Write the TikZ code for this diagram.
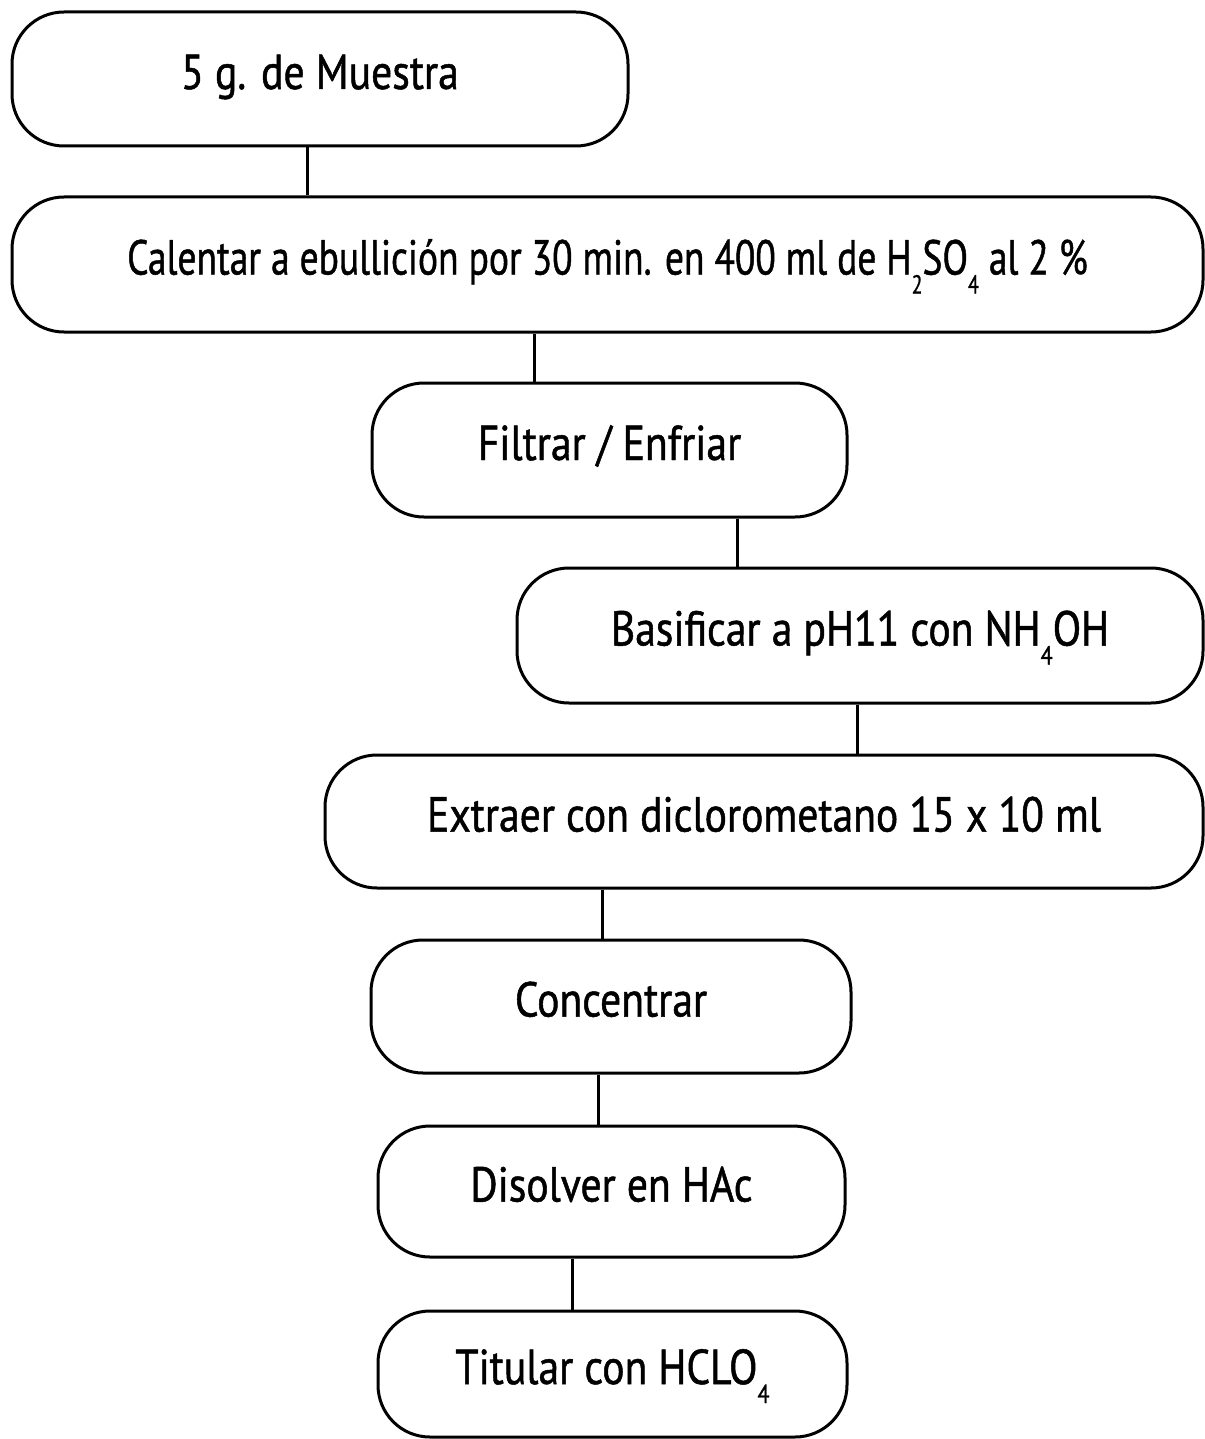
\documentclass[tikz,border=0pt]{standalone}
\usepackage{graphicx}
\usepackage{fontspec}
\setmainfont{PT Sans}[FakeStretch=0.85,FakeBold=1]
\newcommand\chsub[1]{\raisebox{-19pt}{\fontsize{26}{26}\selectfont #1}}
\begin{document}
\begin{tikzpicture}[x=1pt,y=-1pt,
  stepbox/.style={draw=black, line width=3pt, rounded corners=52pt, inner sep=0pt,
    text height=34pt, text depth=14pt, align=center,
    font=\fontsize{49}{56}\selectfont},
  conn/.style={draw=black, line width=3pt}]
\useasboundingbox (0,0) rectangle (1204,1439);
\node[stepbox, minimum width=616pt, minimum height=134pt] (b1) at (320,79) {5 g. de Muestra};
\node[stepbox, minimum width=1191pt, minimum height=135pt] (b2) at (607.5,264.5) {\scalebox{0.9}[1]{Calentar a ebullición por 30 min. en 400 ml de H\chsub{2}SO\chsub{4} al 2 \%}};
\node[stepbox, minimum width=475pt, minimum height=134pt] (b3) at (609.5,450) {Filtrar / Enfriar};
\node[stepbox, minimum width=686pt, minimum height=135pt] (b4) at (860,635.5) {Basificar a pH11 con NH\chsub{4}OH};
\node[stepbox, minimum width=878pt, minimum height=133pt] (b5) at (764,821.5) {Extraer con diclorometano 15 x 10 ml};
\node[stepbox, minimum width=480pt, minimum height=133pt] (b6) at (611,1006.5) {Concentrar};
\node[stepbox, minimum width=467pt, minimum height=131pt] (b7) at (611.5,1191.5) {Disolver en HAc};
\node[stepbox, minimum width=469pt, minimum height=126pt] (b8) at (612.5,1374) {Titular con HCLO\chsub{4}};
\coordinate (c1) at (307,0);
\coordinate (c2) at (534,0);
\coordinate (c3) at (737,0);
\coordinate (c4) at (857,0);
\coordinate (c5) at (602,0);
\coordinate (c6) at (598,0);
\coordinate (c7) at (572,0);
\draw[conn] (c1 |- b1.south) -- (c1 |- b2.north);
\draw[conn] (c2 |- b2.south) -- (c2 |- b3.north);
\draw[conn] (c3 |- b3.south) -- (c3 |- b4.north);
\draw[conn] (c4 |- b4.south) -- (c4 |- b5.north);
\draw[conn] (c5 |- b5.south) -- (c5 |- b6.north);
\draw[conn] (c6 |- b6.south) -- (c6 |- b7.north);
\draw[conn] (c7 |- b7.south) -- (c7 |- b8.north);
\end{tikzpicture}
\end{document}
